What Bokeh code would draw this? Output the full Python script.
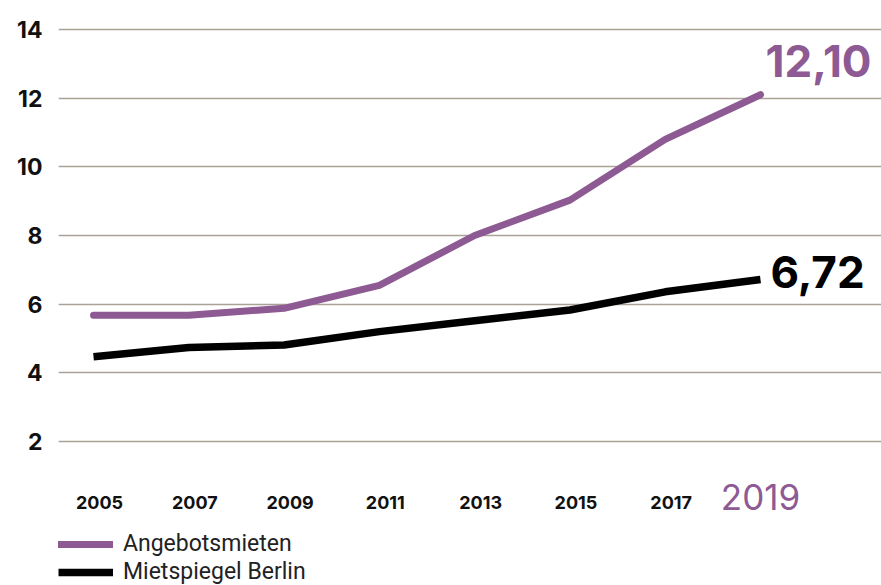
from bokeh.plotting import figure
from bokeh.models import Range1d, FixedTicker, Legend, LegendItem, ColumnDataSource
from bokeh.core.properties import value
from bokeh.embed import file_html
from bokeh.resources import INLINE

years = [2005, 2007, 2009, 2011, 2013, 2015, 2017, 2019]
angebotsmieten = [5.68, 5.68, 5.88, 6.55, 8.00, 9.03, 10.80, 12.10]
mietspiegel = [4.47, 4.74, 4.81, 5.20, 5.52, 5.83, 6.36, 6.72]
y_ticks = [2, 4, 6, 8, 10, 12, 14]
x_tick_labels = ["2005", "2007", "2009", "2011", "2013", "2015", "2017"]
last_year_label = "2019"
last_angebot_label = "12,10"
last_mietspiegel_label = "6,72"

PURPLE = "#8e5a93"
GRID = "#aaa197"
NUM_FONT = "Inter"

X0 = 2004.265
p = figure(width=881, height=585, output_backend="svg", toolbar_location=None,
           x_range=Range1d(X0, 2021.54), y_range=Range1d(-2.194, 14.845),
           x_axis_location=None, min_border_left=58, min_border_right=0,
           min_border_top=0, min_border_bottom=0)
p.outline_line_color = None
p.background_fill_color = "white"
p.border_fill_color = "white"

# y axis
p.yaxis.ticker = FixedTicker(ticks=y_ticks)
p.yaxis.axis_line_color = None
p.yaxis.major_tick_line_color = None
p.yaxis.minor_tick_line_color = None
p.yaxis.major_tick_out = 0
p.yaxis.major_tick_in = 0
p.yaxis.minor_tick_out = 0
p.yaxis.major_label_standoff = 16
p.yaxis.major_label_text_font = NUM_FONT
p.yaxis.major_label_text_font_style = "bold"
p.yaxis.major_label_text_font_size = "23px"
p.yaxis.major_label_text_color = "#111111"

p.xgrid.visible = False
p.ygrid.ticker = FixedTicker(ticks=y_ticks)
p.ygrid.grid_line_color = GRID
p.ygrid.grid_line_width = 1.5
p.ygrid.bounds = (X0, 2019.945)

r1 = p.line(years, angebotsmieten, line_color=PURPLE, line_width=7, line_cap="round")
r2 = p.line(years, mietspiegel, line_color="black", line_width=7.5)

# x tick labels (below the bottom grid line)
src = ColumnDataSource(dict(x=years[:-1], y=[y_ticks[0]] * len(x_tick_labels), t=x_tick_labels))
p.text(x="x", y="y", text="t", source=src, x_offset=6, y_offset=61,
       text_align="center", text_baseline="middle",
       text_font=value(NUM_FONT), text_font_style="bold", text_font_size="18px",
       text_color="#111111")

p.text(x=[years[-1]], y=[y_ticks[0]], text=[last_year_label], y_offset=55,
       text_align="center", text_baseline="middle",
       text_font=value(NUM_FONT), text_font_size="35px", text_color=PURPLE)

p.text(x=[years[-1]], y=[angebotsmieten[-1]], text=[last_angebot_label],
       x_offset=5, y_offset=-34, text_align="left", text_baseline="middle",
       text_font=value(NUM_FONT), text_font_size="44px", text_font_style="bold",
       text_color=PURPLE)
p.text(x=[years[-1]], y=[mietspiegel[-1]], text=[last_mietspiegel_label],
       x_offset=10, y_offset=-7, text_align="left", text_baseline="middle",
       text_font=value(NUM_FONT), text_font_size="44px", text_font_style="bold",
       text_color="black")

legend = Legend(items=[LegendItem(label="Angebotsmieten", renderers=[r1]),
                       LegendItem(label="Mietspiegel Berlin", renderers=[r2])],
                location=(0, 0), orientation="vertical",
                glyph_width=55, glyph_height=20, label_height=20, spacing=1,
                label_standoff=10, padding=0, margin=0,
                border_line_color=None, background_fill_alpha=0,
                label_text_font="Roboto", label_text_font_size="23px",
                label_text_color="#222222")
p.add_layout(legend)

open("out.html", "w").write(file_html(p, INLINE))
